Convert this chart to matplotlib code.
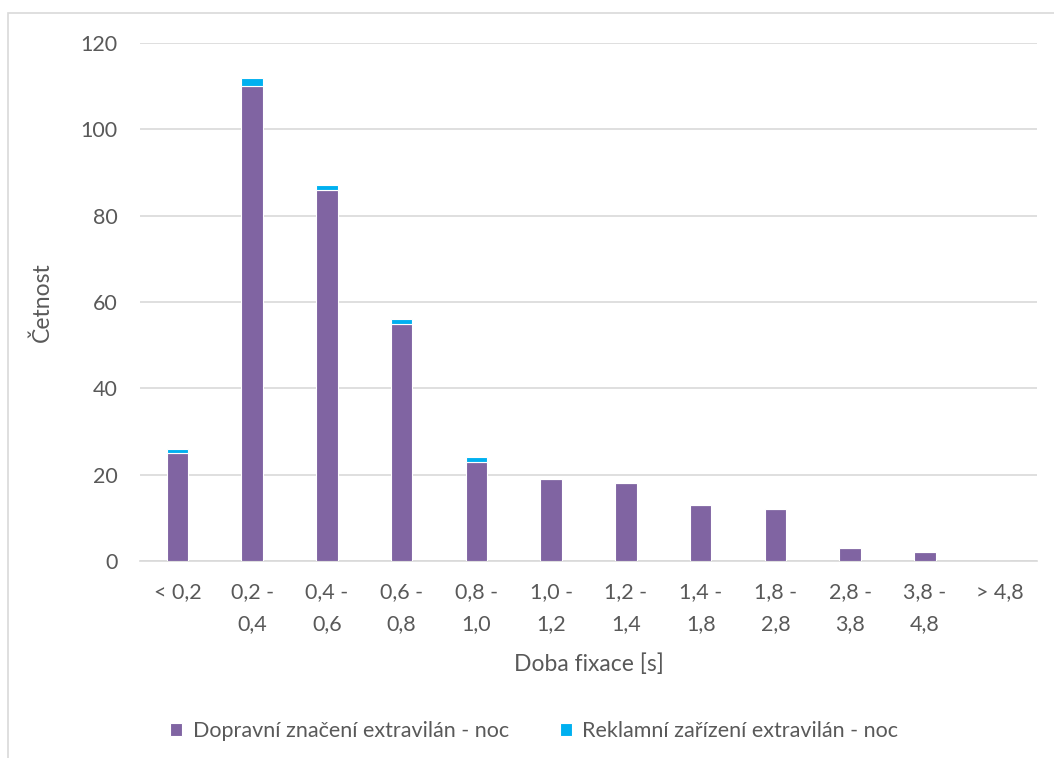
import numpy
from matplotlib import pyplot, patches

# categories on x axis
kategorie = ['< 0,2', '0,2 -\n0,4', '0,4 -\n0,6', '0,6 -\n0,8', '0,8 -\n1,0', '1,0 -\n1,2',
             '1,2 -\n1,4', '1,4 -\n1,8', '1,8 -\n2,8', '2,8 -\n3,8', '3,8 -\n4,8', '> 4,8']
dopravni = [25, 110, 86, 55, 23, 19, 18, 13, 12, 3, 2, 0]
reklamni = [1, 2, 1, 1, 1, 0, 0, 0, 0, 0, 0, 0]
y_ticks = [0, 20, 40, 60, 80, 100, 120]

pyplot.rcParams['font.family'] = ['Lato', 'DejaVu Sans']
text_color = '#595959'

fig = pyplot.figure(figsize=(10.54, 7.58), dpi=100)
ax = fig.add_axes([140/1054, 1-561/758, (1037-140)/1054, (561-43)/758])

x = numpy.arange(len(kategorie))
ax.bar(x, dopravni, width=0.29, color='#8064A2', edgecolor='white', linewidth=0.8,
       label='Dopravní značení extravilán - noc', zorder=3)
ax.bar(x, reklamni, width=0.29, bottom=dopravni, color='#00B0F0', edgecolor='white', linewidth=0.8,
       label='Reklamní zařízení extravilán - noc', zorder=3)

ax.set_xlim(-0.5, len(kategorie)-0.5)
ax.set_ylim(0, 120)
ax.set_yticks(y_ticks)
ax.set_xticks(x)
ax.set_xticklabels(kategorie, linespacing=1.75)
ax.grid(axis='y', color='#D9D9D9', linewidth=1.2, zorder=0)
for s in ['top', 'right', 'left']:
    ax.spines[s].set_visible(False)
ax.spines['bottom'].set_color('#D9D9D9')
ax.spines['bottom'].set_linewidth(1.2)
ax.tick_params(axis='both', length=0, labelsize=15.5, colors=text_color)
ax.tick_params(axis='x', pad=15)
ax.tick_params(axis='y', pad=16)
ax.set_xlabel('Doba fixace [s]', fontsize=16.5, color=text_color, labelpad=14)
ax.set_ylabel('Četnost', fontsize=16.5, color=text_color, labelpad=20)

ax.legend(loc='center', bbox_to_anchor=(0.507, 1-731/758), bbox_transform=fig.transFigure,
          ncol=2, frameon=False, fontsize=15.5, labelcolor=text_color, handlelength=0.55,
          handleheight=0.55, columnspacing=2.35, handletextpad=0.5)

# chart area border
fig.patches.append(patches.Rectangle((8/1054, -0.05), 1.1, 1-13/758+0.05, transform=fig.transFigure,
                                     fill=False, edgecolor='#D9D9D9', linewidth=1.2))

fig.savefig('out.png', dpi=100)
pyplot.close()
